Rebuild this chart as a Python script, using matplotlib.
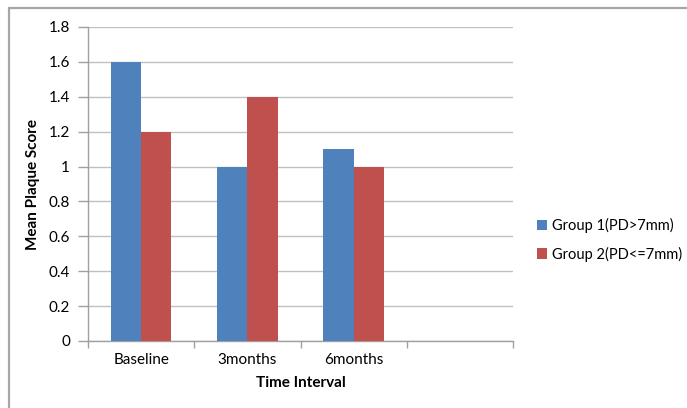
import numpy as np
import matplotlib.pyplot as plt
from matplotlib.patches import Rectangle

# mean plaque score per time interval
categories = ['Baseline', '3months', '6months', '']
group1 = [1.6, 1.0, 1.1, np.nan]
group2 = [1.2, 1.4, 1.0, np.nan]
series_names = ['Group 1(PD>7mm)', 'Group 2(PD<=7mm)']
yticks = [0, 0.2, 0.4, 0.6, 0.8, 1, 1.2, 1.4, 1.6, 1.8]

plt.rcParams['font.family'] = ['Lato', 'DejaVu Sans']

fig = plt.figure(figsize=(6.87, 4.08), dpi=100)
ax = fig.add_axes([88 / 687, 1 - 341 / 408, 425 / 687, 314 / 408])

# chart border, running off the right and bottom edges
fig.patches.append(Rectangle((9 / 687, -0.1), 1.2, 1 - 8 / 408 + 0.1,
                             transform=fig.transFigure, fill=False,
                             edgecolor='#a6a6a6', linewidth=1.6, zorder=0))

x = np.arange(len(categories)) + 0.5
w = 0.285
ax.bar(x - w / 2, group1, w, color='#4f81bd', label=series_names[0], zorder=3)
ax.bar(x + w / 2, group2, w, color='#c0504d', label=series_names[1], zorder=3)

ax.set_xlim(0, 4)
ax.set_ylim(0, 1.8)
ax.set_yticks(yticks)
ax.set_yticklabels(['0', '0.2', '0.4', '0.6', '0.8', '1', '1.2', '1.4', '1.6', '1.8'])
ax.yaxis.grid(True, color='#c0c0c0', linewidth=1, zorder=0)

# category labels between boundary ticks
ax.set_xticks([0, 1, 2, 3, 4])
ax.set_xticklabels([])
ax.set_xticks(x, minor=True)
ax.set_xticklabels(categories, minor=True)
ax.tick_params(axis='x', which='minor', length=0, pad=9, labelsize=11)
ax.tick_params(axis='x', which='major', length=5, color='#a0a0a0', width=1)
ax.tick_params(axis='y', length=7, color='#a0a0a0', width=1, labelsize=11, pad=6)

for side in ['top', 'right']:
    ax.spines[side].set_visible(False)
for side in ['left', 'bottom']:
    ax.spines[side].set_color('#a0a0a0')
    ax.spines[side].set_linewidth(1)

ax.set_xlabel('Time Interval', fontweight='bold', fontsize=11, labelpad=6)
ax.set_ylabel('Mean Plaque Score', fontweight='bold', fontsize=11, labelpad=6)

fig.legend(loc='center left', bbox_to_anchor=(531 / 687, 1 - 240 / 408),
           frameon=False, fontsize=10.5, handlelength=0.7, handleheight=0.7,
           handletextpad=0.35, labelspacing=0.9, borderaxespad=0)

fig.savefig('out.png', dpi=100)
